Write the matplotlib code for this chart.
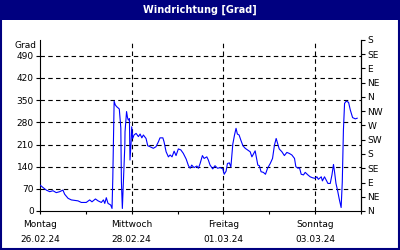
import numpy as np
import matplotlib.pyplot as plt
from matplotlib.patches import Rectangle
from matplotlib.transforms import blended_transform_factory

# Stunden seit Montag 26.02.24 00:00
stunden = [0, 1.6, 3.3, 5.1, 6.8, 8.5, 10.3, 12.0, 12.9, 14.7, 16.4, 19.9, 21.6,
           24.2, 26.0, 27.2, 29.0, 30.4, 32.1, 33.2, 33.9, 34.7, 35.6, 37.0, 37.7,
           38.1, 38.8, 39.4, 40.2, 40.8, 41.5, 42.3, 42.6, 43.1, 43.6, 44.4, 44.5,
           45.3, 45.8, 46.2, 46.8, 47.1, 47.7, 48.0, 48.5, 49.2, 50.3, 51.5, 52.4,
           53.3, 54.1, 55.5, 56.4, 57.6, 59.3, 60.7, 62.0, 62.8, 64.3, 64.9, 66.0,
           67.2, 68.1, 69.1, 70.2, 71.2, 72.4, 73.7, 75.0, 76.5, 77.7, 78.6, 79.4,
           80.6, 82.1, 82.9, 83.8, 85.0, 85.9, 87.3, 88.1, 89.0, 90.4, 91.6, 92.9,
           94.3, 95.7, 96.4, 97.4, 98.1, 99.1, 99.9, 100.9, 101.8, 102.6, 103.3,
           104.2, 105.1, 106.2, 107.4, 108.6, 110.0, 110.9, 111.7, 112.6, 113.5,
           114.0, 114.8, 115.7, 116.9, 118.0, 119.1, 120.5, 121.7, 122.7, 123.6,
           124.5, 125.2, 126.6, 127.9, 129.2, 130.4, 131.8, 133.2, 133.9, 135.0,
           135.8, 136.7, 137.9, 138.8, 140.2, 141.4, 142.6, 144.0, 144.9, 145.7,
           147.2, 147.8, 148.9, 149.6, 150.7, 151.9, 152.8, 153.6, 154.1, 154.9,
           155.7, 156.6, 157.6, 158.2, 158.8, 159.4, 160.3, 161.5, 162.4, 163.6,
           165.0, 166.0]
grad = [82, 74, 66, 61, 64, 58, 61, 66, 53, 40, 35, 32, 27,
        27, 35, 29, 38, 32, 27, 35, 24, 42, 24, 19, 8,
        103, 347, 335, 329, 326, 322, 262, 93, 8, 88, 208, 250,
        314, 295, 287, 292, 161, 219, 266, 229, 240, 245, 235, 243,
        231, 240, 229, 206, 203, 198, 203, 219, 231, 231, 219, 187,
        171, 177, 171, 189, 175, 196, 193, 182, 164, 143, 135, 145,
        137, 142, 135, 150, 175, 166, 171, 161, 145, 133, 143, 135,
        137, 133, 116, 126, 150, 152, 139, 211, 240, 261, 243,
        240, 224, 206, 198, 193, 187, 171, 180, 190, 161,
        145, 143, 124, 122, 116, 135, 150, 166, 208, 229,
        211, 196, 187, 175, 185, 182, 177, 166, 140, 135,
        137, 116, 114, 122, 114, 108, 105, 103, 108, 100,
        108, 95, 108, 100, 87, 87, 114, 147, 126, 87,
        66, 38, 11, 91, 256, 340, 347, 343, 319, 295,
        291, 293]

tage = ["Montag", "Mittwoch", "Freitag", "Sonntag"]
daten = ["26.02.24", "28.02.24", "01.03.24", "03.03.24"]
y_ticks = [0, 70, 140, 210, 280, 350, 420, 490]
richtungen = ["N", "NE", "E", "SE", "S", "SW", "W", "NW", "N", "NE", "E", "SE", "S"]

plt.rcParams['font.family'] = ['DejaVu Sans']
plt.rcParams['font.size'] = 6.5

fig = plt.figure(figsize=(4, 2.5), dpi=100)
navy = '#000080'
fig.patches.append(Rectangle((0, 0.92), 1, 0.08, transform=fig.transFigure,
                             facecolor=navy, edgecolor='none', zorder=0))
fig.patches.append(Rectangle((0.002, 0.003), 0.996, 0.994, transform=fig.transFigure,
                             facecolor='none', edgecolor=navy, lw=1.5, zorder=5))
fig.text(0.5, 0.962, "Windrichtung [Grad]", color='white', fontweight='bold',
         ha='center', va='center', fontsize=7)

ax = fig.add_axes([0.1, 0.156, 0.8025, 0.684])
x = np.array(stunden) / 24.0
ax.plot(x, grad, color='#0000ff', lw=0.8, zorder=3)

ax.set_xlim(0, 7)
ax.set_ylim(0, 540)
ax.spines['top'].set_visible(False)
for s in ['left', 'bottom', 'right']:
    ax.spines[s].set_linewidth(0.8)

ax.set_yticks(y_ticks)
ax.tick_params(axis='y', direction='out', length=3, width=0.8, pad=1.5)
ax.set_xticks([0, 2, 4, 6])
ax.set_xticklabels([t + "\n" + d for t, d in zip(tage, daten)], linespacing=1.9)
ax.set_xticks([1, 3, 5, 7], minor=True)
ax.tick_params(axis='x', which='both', direction='out', length=2.5, width=0.8, pad=4)

for v in y_ticks[1:]:
    ax.axhline(v, color='black', lw=0.8, ls=(0, (4, 3)), zorder=1)
for d in [2, 4, 6]:
    ax.axvline(d, color='black', lw=0.8, ls=(0, (4, 3)), zorder=1)

tr = blended_transform_factory(ax.transAxes, ax.transData)
ax.text(-0.01, 524, "Grad", transform=tr, ha='right', va='center')

ax2 = ax.twinx()
ax2.set_ylim(0, 540)
ax2.set_yticks(np.arange(0, 541, 45))
ax2.set_yticklabels(richtungen)
ax2.tick_params(axis='y', direction='out', length=3, width=0.8, pad=1.5)
for s in ['top', 'left', 'bottom']:
    ax2.spines[s].set_visible(False)
ax2.spines['right'].set_linewidth(0.8)

fig.savefig("out.png", dpi=100)
